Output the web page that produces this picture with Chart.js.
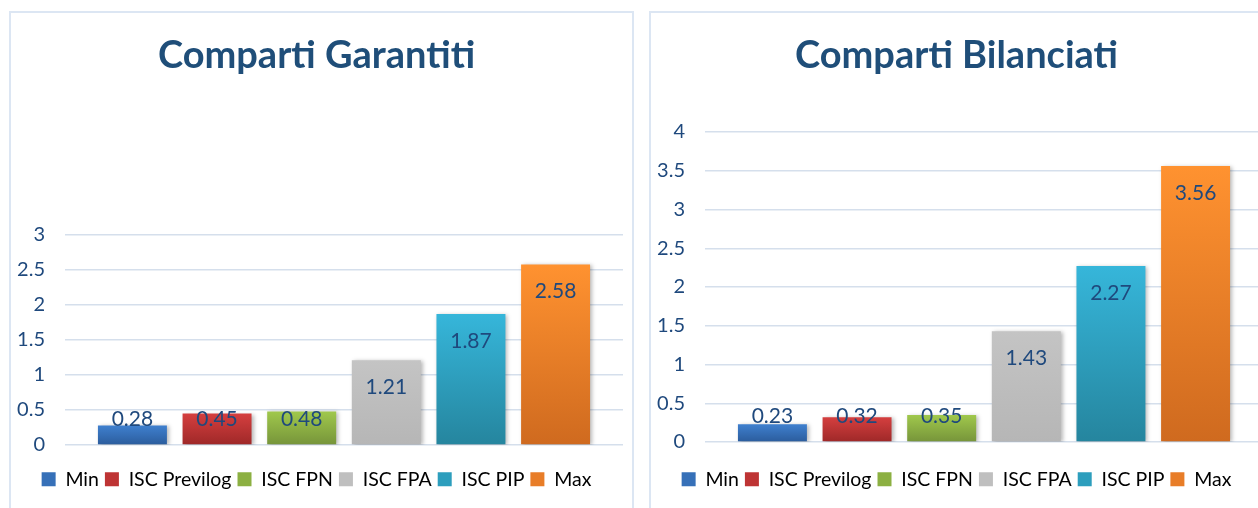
<!DOCTYPE html>
<html>
<head>
<meta charset="utf-8">
<script src="https://cdn.jsdelivr.net/npm/chart.js@4"></script>
<style>
  html, body { margin: 0; padding: 0; background: #fff; overflow: hidden; width: 1258px; height: 508px; }
  .panel { position: absolute; top: 11px; height: 600px; border: 2px solid #DCE6F3; box-sizing: border-box; }
  .wrap { position: absolute; top: 12px; width: 622px; height: 496px; }
</style>
</head>
<body>
<div class="panel" style="left:9px; width:625px;"></div>
<div class="panel" style="left:649px; width:625px;"></div>
<div class="wrap" style="left:10px;"><canvas id="chartGar"></canvas></div>
<div class="wrap" style="left:650px;"><canvas id="chartBil"></canvas></div>
<script>
const seriesNames = ['Min', 'ISC Previlog', 'ISC FPN', 'ISC FPA', 'ISC PIP', 'Max'];
const garantiti = [0.28, 0.45, 0.48, 1.21, 1.87, 2.58];
const bilanciati = [0.23, 0.32, 0.35, 1.43, 2.27, 3.56];
const topColors = ['#3F80CF', '#D53F3F', '#A0C84C', '#C4C4C4', '#36B6DA', '#FF9230'];
const bottomColors = ['#2B5C9C', '#9E2828', '#76943A', '#B6B6B6', '#25859E', '#CF6A1F'];
const legendColors = ['#3670B8', '#BE3434', '#8CB042', '#BFBFBF', '#2D9EBD', '#E87D28'];

const textColor = '#1F497D';
const fontFam = 'Lato, "Open Sans", sans-serif';

function barGradient(i) {
  return function(c) {
    const chart = c.chart;
    const y = chart.scales.y;
    if (!chart.chartArea || !y) return topColors[i];
    const top = y.getPixelForValue(c.raw);
    const base = y.getPixelForValue(0);
    const g = chart.ctx.createLinearGradient(0, top, 0, base);
    g.addColorStop(0, topColors[i]);
    g.addColorStop(1, bottomColors[i]);
    return g;
  };
}

// value labels, "inside end" like the original
const valueLabels = {
  id: 'valueLabels',
  afterDatasetsDraw(chart) {
    const ctx = chart.ctx;
    ctx.save();
    ctx.font = '21px ' + fontFam;
    ctx.fillStyle = textColor;
    ctx.textAlign = 'center';
    ctx.textBaseline = 'middle';
    chart.data.datasets.forEach((ds, i) => {
      const bar = chart.getDatasetMeta(i).data[0];
      const yy = Math.min(bar.y + 27, bar.base - 25);
      ctx.fillText(ds.data[0].toFixed(2), bar.x, yy);
    });
    ctx.restore();
  }
};

const barShadow = {
  id: 'barShadow',
  beforeDatasetsDraw(chart) {
    const ctx = chart.ctx;
    ctx.save();
    ctx.shadowColor = 'rgba(0,0,0,0.28)';
    ctx.shadowBlur = 4;
    ctx.shadowOffsetX = 2;
    ctx.shadowOffsetY = 1;
  },
  afterDatasetsDraw(chart) {
    chart.ctx.restore();
  }
};

function makeChart(id, title, values, yMax, titleGap, xGap) {
  const datasets = seriesNames.map((name, i) => ({
    label: name,
    data: [values[i]],
    backgroundColor: barGradient(i),
    categoryPercentage: 0.91,
    barPercentage: 0.815
  }));
  return new Chart(document.getElementById(id), {
    type: 'bar',
    data: { labels: [''], datasets: datasets },
    plugins: [barShadow, valueLabels],
    options: {
      responsive: true,
      maintainAspectRatio: false,
      animation: false,
      layout: { padding: { left: 0, right: 9, top: 0, bottom: 9 } },
      scales: {
        x: {
          display: true,
          grid: { display: false },
          border: { display: false },
          ticks: { display: false },
          afterFit: s => { s.height = xGap; }
        },
        y: {
          min: 0,
          max: yMax,
          border: { display: false },
          grid: { color: '#D5DFEC', lineWidth: 1.5, drawTicks: false },
          ticks: {
            stepSize: 0.5,
            padding: 20,
            color: textColor,
            font: { family: fontFam, size: 20 },
            callback: v => v.toString()
          },
          afterFit: s => { s.width = 55; }
        }
      },
      plugins: {
        title: {
          display: true,
          text: title,
          color: '#1F4E79',
          font: { family: fontFam, size: 38, weight: 'bold' },
          padding: { top: 21, bottom: titleGap }
        },
        legend: {
          position: 'bottom',
          labels: {
            color: textColor,
            font: { family: fontFam, size: 19.5 },
            boxWidth: 14,
            boxHeight: 14,
            padding: 6,
            generateLabels: chart => chart.data.datasets.map((ds, i) => ({
              text: ds.label,
              fillStyle: legendColors[i],
              strokeStyle: legendColors[i],
              lineWidth: 0,
              datasetIndex: i
            }))
          }
        },
        tooltip: { enabled: false }
      }
    }
  });
}

makeChart('chartGar', 'Comparti Garantiti', garantiti, 3, 156.4, 18.5);
makeChart('chartBil', 'Comparti Bilanciati', bilanciati, 4, 53.4, 21.5);
</script>
</body>
</html>
